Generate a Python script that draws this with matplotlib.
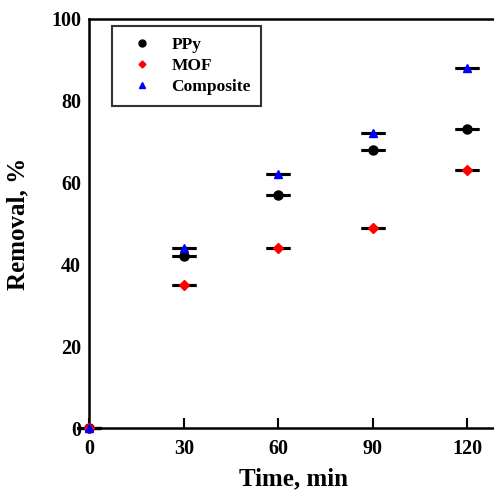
import matplotlib.pyplot as plt
from matplotlib.lines import Line2D

# Datos
time_min = [0, 30, 60, 90, 120]
ppy = [0, 42, 57, 68, 73]
mof = [0, 35, 44, 49, 63]
composite = [0, 44, 62, 72, 88]
err = [0, 0, 0, 0, 0]

plt.rcParams['font.family'] = ['Liberation Serif', 'DejaVu Serif']
plt.rcParams['font.weight'] = 'bold'

fig = plt.figure(figsize=(4.94, 4.95), dpi=100)
ax = fig.add_axes([0.181, 0.135, 0.828, 0.827])

series = [
    (ppy, 'PPy', 'o', 'black', 6.5),
    (mof, 'MOF', 'D', 'red', 5),
    (composite, 'Composite', '^', 'blue', 5.5),
]
handles = []
for vals, name, mk, col, ms in series:
    ax.errorbar(time_min, vals, yerr=err, fmt=mk, color=col, ms=ms,
                ecolor='black', elinewidth=1.5, capsize=8.5, capthick=2.2,
                zorder=3, clip_on=False)
    handles.append(Line2D([], [], ls='none', marker=mk, color=col, ms=ms - 1.5, label=name))

ax.set_xlim(0, 130)
ax.set_ylim(0, 100)
ax.set_xticks([0, 30, 60, 90, 120])
ax.set_yticks([0, 20, 40, 60, 80, 100])
ax.tick_params(axis='x', direction='in', length=7, width=1.5, labelsize=14.5, pad=8)
ax.tick_params(axis='y', length=0, labelsize=14.5, pad=6)
for s in ax.spines.values():
    s.set_linewidth(1.8)
ax.spines['right'].set_visible(False)

ax.set_xlabel('Time, min', fontsize=18, fontweight='bold', labelpad=6)
ax.set_ylabel('Removal, %', fontsize=18, fontweight='bold', labelpad=16)

leg = ax.legend(handles=handles, loc='upper left', bbox_to_anchor=(0.056, 0.982),
                fontsize=12.5, frameon=True, fancybox=False, edgecolor='black',
                handlelength=2.25, handletextpad=0.55, borderpad=0.6,
                labelspacing=0.3, borderaxespad=0)
leg.get_frame().set_linewidth(1.5)

plt.savefig('out.png', dpi=100)
plt.close()
